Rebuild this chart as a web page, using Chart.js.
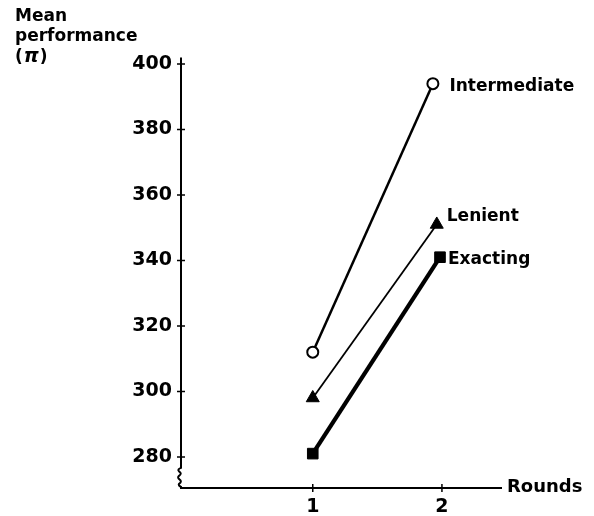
<!DOCTYPE html>
<html><head><meta charset="utf-8">
<script src="https://cdn.jsdelivr.net/npm/chart.js@4/dist/chart.umd.min.js"></script>
<style>html,body{margin:0;padding:0;background:#fff}canvas{display:block}</style>
</head><body>
<canvas id="c" width="594" height="516"></canvas>
<script>
// ---- data ----
const rounds = [1, 2];
const yTicks = [280, 300, 320, 340, 360, 380, 400];
const seriesNames = ['Intermediate', 'Lenient', 'Exacting'];
const intermediateX = [1.0, 1.93];
const intermediate = [312, 394];
const lenientX = [1.0, 1.96];
const lenient = [298, 351];
const exactingX = [1.0, 1.985];
const exacting = [281, 341];
const yTitleLines = ['Mean', 'performance'];
const xTitle = 'Rounds';

const FONT_FAMILY = '"DejaVu Sans", "Liberation Sans", sans-serif';
const tickFont = {family: FONT_FAMILY, size: 19, weight: 'bold'};
const TXT = 'bold 17px ' + FONT_FAMILY;

function pts(xs, ys) { return xs.map((x, i) => ({x: x, y: ys[i]})); }

const labelOffsets = [[16.5, 2.5], [10, -7.5], [8, 2]];

const decor = {
  id: 'decor',
  afterDraw(chart) {
    const {ctx, chartArea: a, scales: {x, y}} = chart;
    ctx.save();
    ctx.strokeStyle = '#000';
    ctx.fillStyle = '#000';
    ctx.lineWidth = 2;
    const ax = a.left, bot = a.bottom;
    const bs = y.getPixelForValue(yTicks[0]) + 11;
    ctx.beginPath();
    ctx.moveTo(ax, a.top);
    ctx.lineTo(ax, bs);
    ctx.quadraticCurveTo(ax - 4, bs + 1.5, ax - 2, bs + 3.5);
    ctx.quadraticCurveTo(ax + 1.5, bs + 5.5, ax - 2, bs + 8);
    ctx.quadraticCurveTo(ax - 4, bs + 9.5, ax - 1.5, bs + 11.5);
    ctx.quadraticCurveTo(ax + 1.5, bs + 13.5, ax - 2, bs + 16);
    ctx.quadraticCurveTo(ax - 3, bs + 17.5, ax, bs + 19);
    ctx.lineTo(ax, bot);
    ctx.lineTo(a.right, bot);
    ctx.stroke();
    // ticks crossing the axes
    ctx.lineWidth = 1.5;
    ctx.beginPath();
    yTicks.forEach(v => {
      const py = y.getPixelForValue(v);
      ctx.moveTo(ax - 4, py); ctx.lineTo(ax + 4, py);
    });
    rounds.forEach(v => {
      const px = x.getPixelForValue(v);
      ctx.moveTo(px, bot - 4); ctx.lineTo(px, bot + 4);
    });
    ctx.stroke();
    // texts
    ctx.textAlign = 'left';
    ctx.textBaseline = 'middle';
    ctx.font = 'bold 18px ' + FONT_FAMILY;
    ctx.fillText(xTitle, a.right + 5, bot - 1);
    ctx.font = TXT;
    chart.data.datasets.forEach((ds, i) => {
      const meta = chart.getDatasetMeta(i);
      const p = meta.data[meta.data.length - 1];
      ctx.fillText(seriesNames[i], p.x + labelOffsets[i][0], p.y + labelOffsets[i][1]);
    });
    ctx.textBaseline = 'alphabetic';
    ctx.fillText(yTitleLines[0], 15, 20.5);
    ctx.fillText(yTitleLines[1], 15, 41);
    let tx = 15;
    ctx.fillText('(', tx, 61.5); tx += ctx.measureText('(').width + 1;
    ctx.font = 'italic bold 19px ' + FONT_FAMILY;
    ctx.fillText('\u03C0', tx, 61.5); tx += ctx.measureText('\u03C0').width + 1;
    ctx.font = TXT;
    ctx.fillText(')', tx, 61.5);
    ctx.restore();
  }
};

new Chart(document.getElementById('c'), {
  type: 'line',
  data: {
    datasets: [
      {label: seriesNames[0], data: pts(intermediateX, intermediate), borderColor: '#000', borderWidth: 2.5,
       pointStyle: 'circle', pointRadius: 5.5, pointBackgroundColor: '#fff', pointBorderColor: '#000', pointBorderWidth: 2},
      {label: seriesNames[1], data: pts(lenientX, lenient), borderColor: '#000', borderWidth: 1.8,
       pointStyle: 'triangle', pointRadius: 7.5, pointBackgroundColor: '#000', pointBorderColor: '#000', pointBorderWidth: 1},
      {label: seriesNames[2], data: pts(exactingX, exacting), borderColor: '#000', borderWidth: 4.2,
       pointStyle: 'rect', pointRadius: 7.5, pointBackgroundColor: '#000', pointBorderColor: '#000', pointBorderWidth: 1}
    ]
  },
  options: {
    responsive: false,
    devicePixelRatio: 1,
    animation: false,
    clip: false,
    layout: {padding: {left: 0, top: 57.5, right: 92, bottom: 0}},
    plugins: {legend: {display: false}, tooltip: {enabled: false}},
    elements: {line: {tension: 0}},
    scales: {
      x: {
        type: 'linear', min: -0.02, max: 2.465,
        afterBuildTicks: s => { s.ticks = rounds.map(v => ({value: v})); },
        grid: {display: false, drawTicks: false},
        border: {display: false},
        ticks: {font: tickFont, color: '#000', padding: 8, maxRotation: 0, autoSkip: false,
                callback: v => String(v)},
        afterFit: s => { s.height = 28; }
      },
      y: {
        type: 'linear', min: 270.5, max: 402,
        afterBuildTicks: s => { s.ticks = yTicks.map(v => ({value: v})); },
        grid: {display: false, drawTicks: false},
        border: {display: false},
        ticks: {font: tickFont, color: '#000', padding: 9, autoSkip: false, callback: v => String(v)},
        afterFit: s => { s.width = 181; }
      }
    }
  },
  plugins: [decor]
});
</script>
</body></html>
